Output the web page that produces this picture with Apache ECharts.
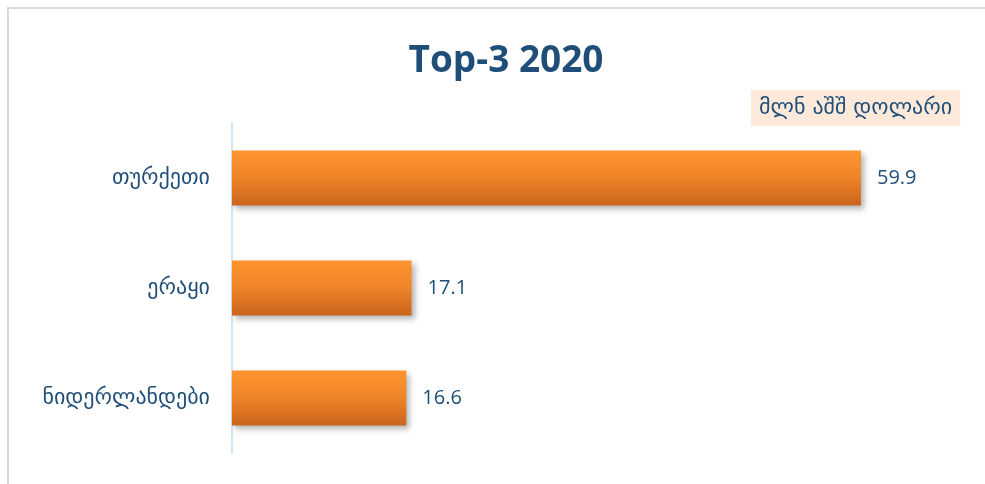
<!DOCTYPE html>
<html>
<head>
<meta charset="utf-8">
<script src="https://cdn.jsdelivr.net/npm/echarts@6/dist/echarts.min.js"></script>
<style>
  html, body { margin: 0; padding: 0; background: #ffffff; }
  #frame {
    position: absolute; left: 7px; top: 7px; width: 1000px; height: 500px;
    border-left: 2px solid #d9d9d9; border-top: 2px solid #d9d9d9;
  }
  #chart { position: absolute; left: 0; top: 0; width: 985px; height: 484px; }
</style>
</head>
<body>
<div id="frame"></div>
<div id="chart"></div>
<script>
const countries = ["თურქეთი", "ერაყი", "ნიდერლანდები"];
const values = [59.9, 17.1, 16.6];

const textColor = "#1f4e79";
const font = "DejaVu Sans, Noto Sans, sans-serif";

const chart = echarts.init(document.getElementById("chart"));

chart.setOption({
  animation: false,
  title: {
    text: "Top-3 2020",
    left: 501,
    top: 38,
    textAlign: "center",
    textStyle: { color: textColor, fontSize: 37, fontWeight: "bold", fontFamily: "Open Sans, sans-serif" }
  },
  graphic: [{
    type: "text",
    left: 751,
    top: 90,
    style: {
      text: "მლნ აშშ დოლარი",
      fill: textColor,
      font: "22px " + font,
      backgroundColor: "#fde9d9",
      padding: [7, 8, 7, 8]
    }
  }],
  grid: { left: 232, top: 123, height: 330, width: 630 },
  xAxis: {
    type: "value",
    min: 0,
    max: 60,
    show: false
  },
  yAxis: {
    type: "category",
    inverse: true,
    data: countries,
    axisLine: { show: true, lineStyle: { color: "#d6e3f3", width: 2 } },
    axisTick: { show: false },
    axisLabel: { color: textColor, fontSize: 22, fontFamily: font, margin: 22 }
  },
  series: [{
    type: "bar",
    data: values,
    barWidth: 55,
    itemStyle: {
      color: new echarts.graphic.LinearGradient(0, 0, 0, 1, [
        { offset: 0, color: "#ff952f" },
        { offset: 0.5, color: "#ee8428" },
        { offset: 1, color: "#c9641c" }
      ]),
      shadowColor: "rgba(0,0,0,0.3)",
      shadowBlur: 6,
      shadowOffsetX: 3,
      shadowOffsetY: 3
    },
    label: {
      show: true,
      position: "right",
      distance: 16,
      color: textColor,
      fontSize: 20,
      fontFamily: "Open Sans, sans-serif",
      formatter: (p) => p.value.toFixed(1)
    }
  }]
});
</script>
</body>
</html>
